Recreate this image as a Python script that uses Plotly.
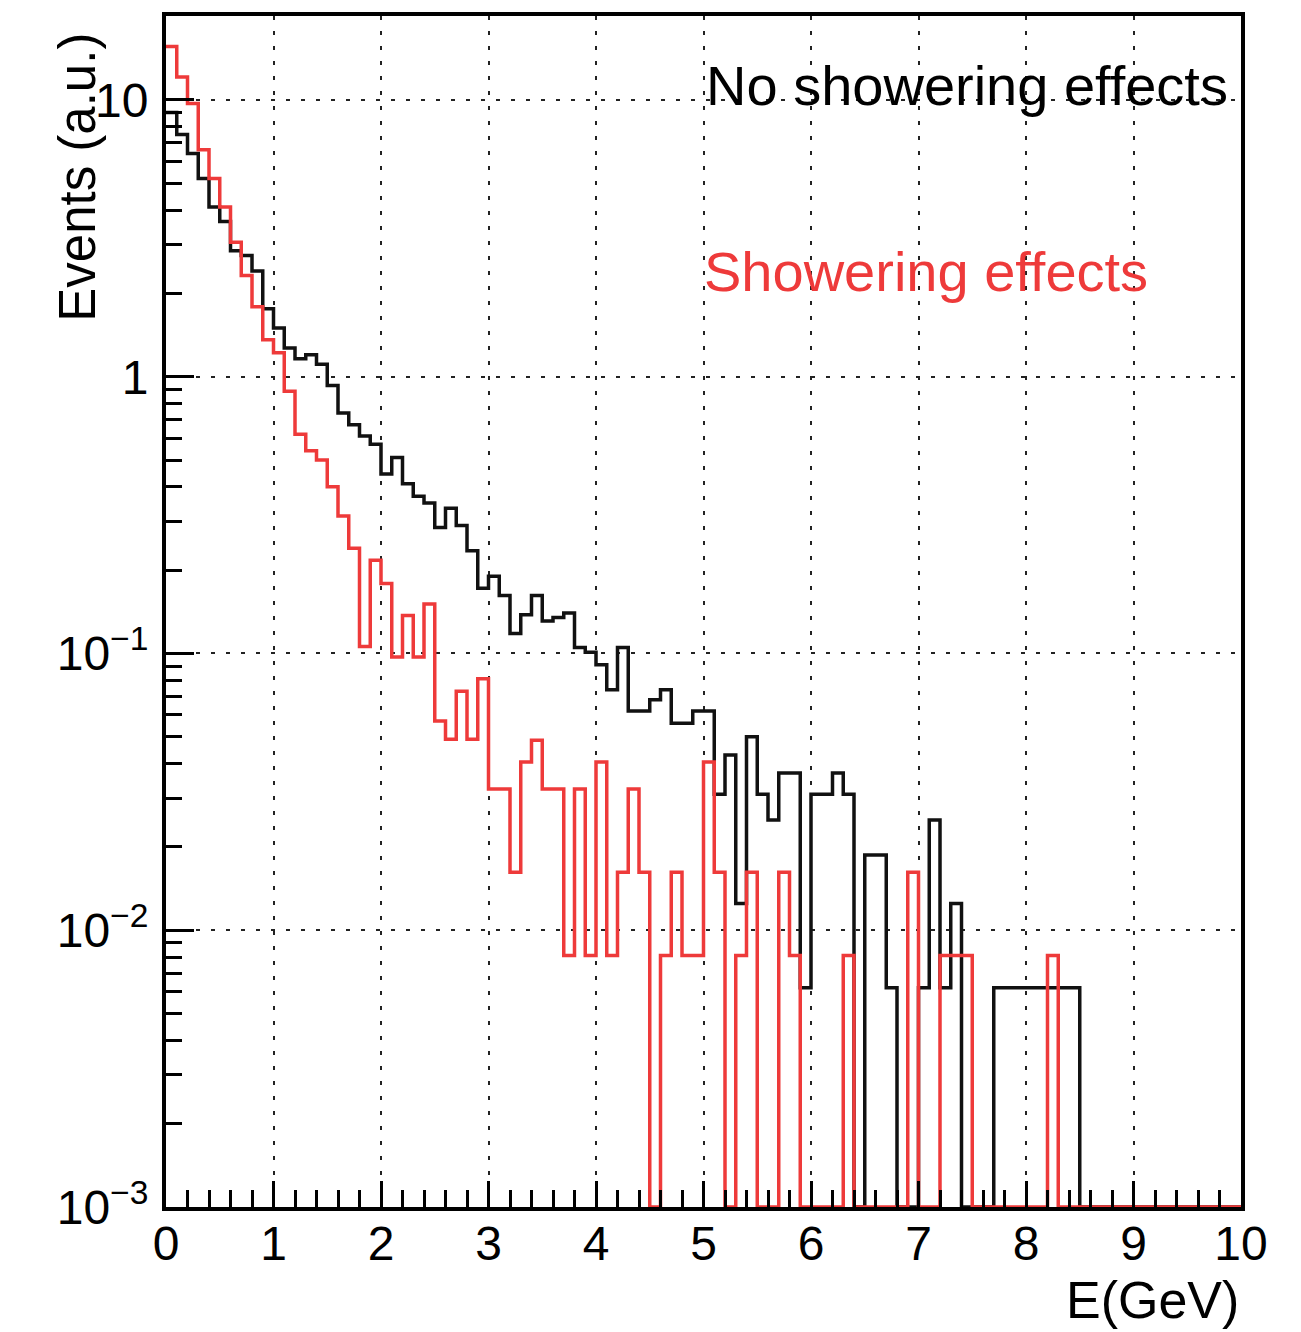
import plotly.graph_objects as go

# ---------------- data ----------------
bin_width = 0.1
n_bins = 100
x_min, x_max = 0.0, 10.0
y_min, y_max = 1e-3, 20.1

# "No showering effects" (black)
no_shower = [
    9.0, 7.5, 6.4, 5.2, 4.1, 3.64, 2.85, 2.74, 2.41, 1.76,
    1.50, 1.27, 1.16, 1.20, 1.11, 0.93, 0.74, 0.67, 0.61, 0.57,
    0.445, 0.51, 0.41, 0.37, 0.35, 0.285, 0.335, 0.29, 0.235, 0.172,
    0.19, 0.162, 0.118, 0.138, 0.162, 0.131, 0.135, 0.140, 0.105, 0.101,
    0.091, 0.074, 0.105, 0.062, 0.062, 0.068, 0.074, 0.056, 0.056, 0.062,
    0.062, 0.031, 0.043, 0.0125, 0.050, 0.031, 0.025, 0.037, 0.037, 0.0062,
    0.031, 0.031, 0.037, 0.031, 0.0, 0.0187, 0.0187, 0.0062, 0.0, 0.0,
    0.0062, 0.025, 0.0062, 0.0125, 0.0, 0.0, 0.0, 0.0062, 0.0062, 0.0062,
    0.0062, 0.0062, 0.0062, 0.0062, 0.0062, 0.0, 0.0, 0.0, 0.0, 0.0,
    0.0, 0.0, 0.0, 0.0, 0.0, 0.0, 0.0, 0.0, 0.0, 0.0,
]

# "Showering effects" (red)
shower = [
    15.6, 12.1, 9.7, 6.6, 5.2, 4.1, 3.06, 2.32, 1.79, 1.36,
    1.22, 0.885, 0.62, 0.54, 0.50, 0.40, 0.314, 0.24, 0.106, 0.217,
    0.179, 0.097, 0.137, 0.097, 0.151, 0.057, 0.049, 0.073, 0.049, 0.081,
    0.0324, 0.0324, 0.0162, 0.0405, 0.0486, 0.0324, 0.0324, 0.0081, 0.0324, 0.0081,
    0.0405, 0.0081, 0.0162, 0.0324, 0.0162, 0.0, 0.0081, 0.0162, 0.0081, 0.0081,
    0.0405, 0.0162, 0.0, 0.0081, 0.0162, 0.0, 0.0, 0.0162, 0.0081, 0.0,
    0.0, 0.0, 0.0, 0.0081, 0.0, 0.0, 0.0, 0.0, 0.0, 0.0162,
    0.0, 0.0, 0.0081, 0.0081, 0.0081, 0.0, 0.0, 0.0, 0.0, 0.0,
    0.0, 0.0, 0.0081, 0.0, 0.0, 0.0, 0.0, 0.0, 0.0, 0.0,
    0.0, 0.0, 0.0, 0.0, 0.0, 0.0, 0.0, 0.0, 0.0, 0.0,
]

x_ticks = list(range(0, 11))
y_tick_vals = [1e-3, 1e-2, 1e-1, 1, 10]
y_tick_text = ["10<sup>\u22123</sup>", "10<sup>\u22122</sup>", "10<sup>\u22121</sup>", "1", "10"]

label_black = "No showering effects"
label_red = "Showering effects"
x_title = "E(GeV)"
y_title = "Events (a.u.)"

# ---------------- build ----------------
edges = [x_min + i * bin_width for i in range(n_bins + 1)]


def step_y(vals):
    # empty bins are drawn on the lower frame edge, as ROOT does on log scale
    v = [val if val > 0 else y_min for val in vals]
    return v + [v[-1]]


minor_y = [m * 10.0 ** e for e in range(-3, 2) for m in range(2, 10) if m * 10.0 ** e < y_max]

FONT = "Liberation Sans, Arial, Helvetica, sans-serif"
RED = "#ee3a3a"

fig = go.Figure()
fig.add_trace(go.Scatter(
    x=edges, y=step_y(no_shower), mode="lines", line_shape="hv",
    line=dict(color="#111111", width=3.5), showlegend=False,
))
fig.add_trace(go.Scatter(
    x=edges, y=step_y(shower), mode="lines", line_shape="hv",
    line=dict(color=RED, width=3.5), showlegend=False,
))

fig.update_layout(
    width=1301, height=1332,
    margin=dict(l=166, r=60, t=12, b=125),
    paper_bgcolor="white", plot_bgcolor="white",
    font=dict(family=FONT, color="black"),
    showlegend=False,
)

fig.update_xaxes(
    range=[x_min, x_max], tickmode="array", tickvals=x_ticks,
    ticktext=[str(t) for t in x_ticks],
    ticks="inside", ticklen=26, tickwidth=2.5, tickcolor="black",
    minor=dict(dtick=0.2, tick0=0, ticks="inside", ticklen=17, tickwidth=2.5, tickcolor="black", showgrid=False),
    showline=True, linewidth=4, linecolor="black", mirror=True,
    showgrid=True, gridcolor="#222222", gridwidth=2, griddash="4px,11px",
    zeroline=False,
    tickfont=dict(size=48, family=FONT, color="black"),
    ticklabelstandoff=-9,
)
fig.update_yaxes(
    type="log", range=[-3, 1.3032],
    tickmode="array", tickvals=y_tick_vals, ticktext=y_tick_text,
    ticks="inside", ticklen=28, tickwidth=2.5, tickcolor="black",
    minor=dict(tickmode="array", tickvals=minor_y, ticks="inside", ticklen=16, tickwidth=2.5,
               tickcolor="black", showgrid=False),
    showline=True, linewidth=4, linecolor="black", mirror=True,
    showgrid=True, gridcolor="#222222", gridwidth=2, griddash="4px,11px",
    zeroline=False,
    tickfont=dict(size=48, family=FONT, color="black"),
    ticklabelstandoff=4,
)

fig.add_annotation(
    text=label_black, xref="paper", yref="paper", x=0.5000, y=0.9420,
    xanchor="left", yanchor="middle", showarrow=False,
    font=dict(size=56, family=FONT, color="black"),
)
fig.add_annotation(
    text=label_red, xref="paper", yref="paper", x=0.4985, y=0.7855,
    xanchor="left", yanchor="middle", showarrow=False,
    font=dict(size=56, family=FONT, color=RED),
)
fig.add_annotation(
    text=x_title, xref="paper", yref="paper", x=1.0, y=-0.0778,
    xanchor="right", yanchor="middle", showarrow=False,
    font=dict(size=52, family=FONT, color="black"),
)
fig.add_annotation(
    text=y_title, xref="paper", yref="paper", x=-0.0819, y=0.9880,
    xanchor="center", yanchor="top", textangle=-90, showarrow=False,
    font=dict(size=51, family=FONT, color="black"),
)

fig.write_html("out.html")
